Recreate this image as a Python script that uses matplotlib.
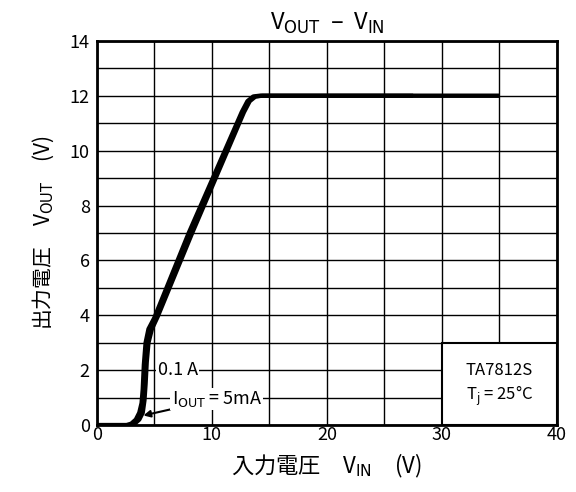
import matplotlib.pyplot as plt
from matplotlib.patches import Rectangle

plt.rcParams['font.family'] = ['Noto Sans CJK JP', 'DejaVu Sans']
plt.rcParams['mathtext.fontset'] = 'custom'
plt.rcParams['mathtext.rm'] = 'DejaVu Sans'

# curve, IOUT = 5mA
vin_5ma = [0, 2.6, 3.0, 3.4, 3.7, 3.9, 4.0, 4.1, 4.25, 4.5, 5.0, 8.0, 12.6, 13.1, 13.6, 14.2, 35]
vout_5ma = [0, 0, 0.05, 0.2, 0.45, 0.8, 1.3, 2.2, 3.0, 3.5, 3.9, 7.0, 11.4, 11.8, 11.97, 12, 12]

# IOUT = 0.1 A
vin_01a = [0, 2.9, 3.3, 3.7, 4.0, 4.15, 4.25, 4.35, 4.5, 4.8, 5.3, 8.3, 12.8, 13.3, 13.8, 14.4, 27.5]
vout_01a = [0, 0, 0.05, 0.2, 0.45, 0.9, 1.5, 2.3, 3.0, 3.5, 3.95, 7.0, 11.4, 11.8, 11.97, 12, 12]

x_ticks = [0, 10, 20, 30, 40]
y_ticks = [0, 2, 4, 6, 8, 10, 12, 14]

fig = plt.figure(figsize=(5.76, 4.92), dpi=100)
ax = fig.add_axes([0.168, 0.136, 0.799, 0.781])

ax.set_xlim(0, 40)
ax.set_ylim(0, 14)
ax.set_xticks(x_ticks)
ax.set_xticks(range(0, 41, 5), minor=True)
ax.set_yticks(y_ticks)
ax.set_yticks(range(0, 15), minor=True)
ax.grid(True, which='both', color='black', linewidth=1.0)
ax.set_axisbelow(True)
ax.tick_params(which='both', length=0, labelsize=13)
ax.tick_params(axis='x', pad=1)
ax.tick_params(axis='y', pad=5)
for s in ax.spines.values():
    s.set_linewidth(2)

# label box in the lower right corner
ax.add_patch(Rectangle((30, 0), 10, 3, facecolor='white', edgecolor='black',
                       linewidth=1.5, zorder=2))
ax.text(35, 2.0, 'TA7812S', ha='center', va='center', fontsize=12, zorder=3)
ax.text(35, 1.05, r'T$_{\mathrm{j}}$ = 25°C', ha='center', va='center', fontsize=12, zorder=3)

ax.plot(vin_01a, vout_01a, color='black', linewidth=3, solid_capstyle='butt', zorder=4)
ax.plot(vin_5ma, vout_5ma, color='black', linewidth=3.2, solid_capstyle='butt', zorder=4)

ax.text(5.3, 2.0, '0.1 A', ha='left', va='center', fontsize=13, zorder=3,
        bbox=dict(facecolor='white', edgecolor='none', pad=1))
ax.annotate(r'I$_{\mathrm{OUT}}$ = 5mA', xy=(4.05, 0.35), xytext=(6.5, 0.95),
            ha='left', va='center', fontsize=13, zorder=5,
            bbox=dict(facecolor='white', edgecolor='none', pad=1),
            arrowprops=dict(arrowstyle='-|>', color='black', lw=1.5,
                            shrinkA=0, shrinkB=0, mutation_scale=10))

ax.set_title(r'V$_{\mathrm{OUT}}$  –  V$_{\mathrm{IN}}$', fontsize=17, pad=8)
ax.set_xlabel('入力電圧　V$_{\\mathrm{IN}}$　(V)', fontsize=16, labelpad=5)
ax.set_ylabel('出力電圧　V$_{\\mathrm{OUT}}$　(V)', fontsize=15, labelpad=10)

fig.savefig('out.png', dpi=100)
